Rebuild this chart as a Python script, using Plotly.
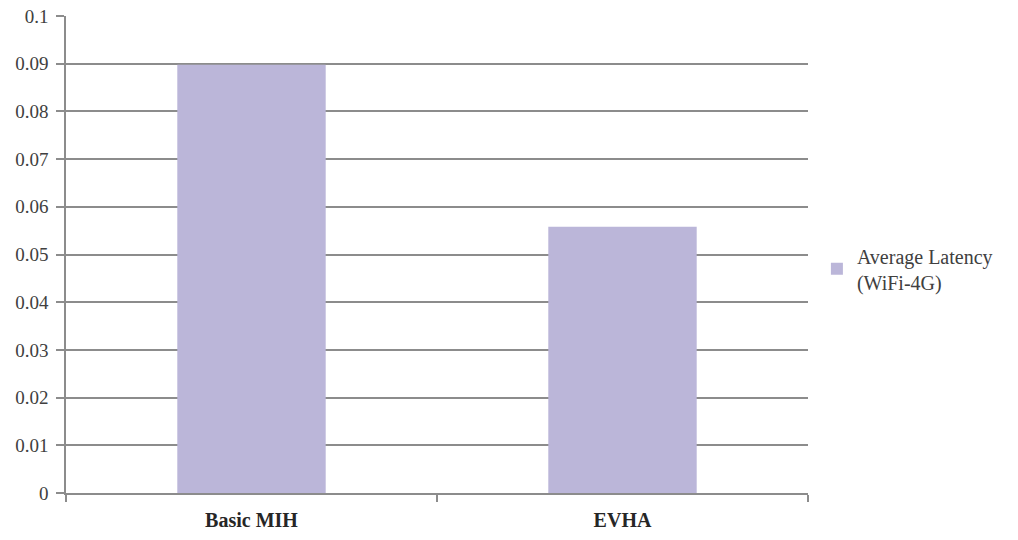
import plotly.graph_objects as go

categories = ["Basic MIH", "EVHA"]
values = [0.0898, 0.0558]
series_name = "Average Latency<br>(WiFi-4G)"
y_ticks = [0, 0.01, 0.02, 0.03, 0.04, 0.05, 0.06, 0.07, 0.08, 0.09, 0.1]
y_tick_labels = ["0", "0.01", "0.02", "0.03", "0.04", "0.05", "0.06", "0.07", "0.08", "0.09", "0.1"]
x_tick_labels = ["<b>Basic MIH</b>", "<b>EVHA</b>"]

FONT = "Liberation Serif, DejaVu Serif, serif"
fig = go.Figure()
fig.add_trace(go.Bar(
    x=categories, y=values, name=series_name,
    marker=dict(color="#BBB6D9", line=dict(width=0)),
    width=0.4, showlegend=True,
))

grid = "#8C8C8C"
fig.update_layout(
    width=1018, height=540,
    margin=dict(l=66, r=210, t=16, b=47, autoexpand=False),
    paper_bgcolor="white", plot_bgcolor="white",
    font=dict(family=FONT, color="#404040", size=20),
    showlegend=True,
    legend=dict(x=1.012, y=0.47, xanchor="left", yanchor="middle",
                font=dict(size=20, color="#404040", family=FONT), itemsizing="constant"),
)
fig.update_xaxes(
    type="category", showline=True, linecolor=grid, linewidth=1.5,
    ticks="outside", tickson="boundaries", ticklen=7, tickcolor=grid, tickwidth=1.5,
    tickfont=dict(size=20, color="#262626", family=FONT),
    tickvals=categories, ticktext=x_tick_labels,
    showgrid=False, automargin=False, ticklabelstandoff=8,
)
fig.update_yaxes(
    range=[0, 0.1], tickvals=y_ticks, ticktext=y_tick_labels,
    showline=True, linecolor=grid, linewidth=1.5,
    ticks="outside", ticklen=8, tickcolor=grid, tickwidth=1.5,
    showgrid=True, gridcolor=grid, gridwidth=1.5,
    zeroline=False, tickfont=dict(size=19, family=FONT, color="#404040"),
    automargin=False, ticklabelstandoff=4,
)

fig.write_html("out.html")
